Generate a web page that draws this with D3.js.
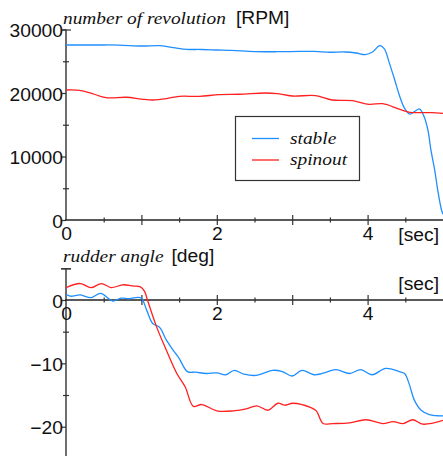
<!DOCTYPE html>
<html>
<head>
<meta charset="utf-8">
<script src="https://cdn.jsdelivr.net/npm/d3@7"></script>
<style>
body { margin: 0; background: #fff; }
</style>
</head>
<body>
<script>
// number of revolution [RPM]
var rpmStableT = [0, 0.4, 0.7, 1.0, 1.25, 1.45, 1.6, 1.8, 2.0, 2.2, 2.5, 2.8, 3.1, 3.3, 3.5, 3.7, 3.85, 3.97, 4.07, 4.16, 4.22, 4.29, 4.36, 4.42, 4.49, 4.56, 4.62, 4.69, 4.75, 4.8, 4.84, 4.89, 4.93, 4.98, 5.0]
var rpmStable = [27560, 27560, 27550, 27400, 27450, 27100, 26880, 26850, 26770, 26700, 26520, 26500, 26550, 26560, 26420, 26460, 26300, 26050, 26500, 27450, 27000, 24670, 22050, 19690, 17590, 16690, 17060, 17480, 16270, 14170, 11020, 7870, 4720, 1570, 900]
var rpmSpinT = [0, 0.18, 0.35, 0.53, 0.8, 1.0, 1.15, 1.35, 1.5, 1.77, 2.03, 2.3, 2.65, 2.8, 3.0, 3.31, 3.53, 3.8, 4.02, 4.2, 4.42, 4.56, 4.69, 4.85, 5.0]
var rpmSpin = [20470, 20420, 19900, 19260, 19330, 19050, 18900, 19150, 19470, 19470, 19740, 19800, 20000, 19900, 19530, 19580, 18900, 18790, 18220, 18320, 17450, 16950, 16900, 16900, 16800]

// rudder angle [deg]
var rudStableT = [0, 0.06, 0.19, 0.33, 0.46, 0.62, 0.73, 0.84, 0.95, 1.0, 1.07, 1.15, 1.24, 1.33, 1.42, 1.5, 1.61, 1.72, 1.86, 2.0, 2.12, 2.23, 2.36, 2.52, 2.74, 2.87, 3.0, 3.13, 3.29, 3.4, 3.58, 3.76, 3.91, 4.06, 4.24, 4.42, 4.49, 4.55, 4.62, 4.71, 4.82, 5.0]
var rudStable = [0.9, 0.6, 0.8, 0.37, 1.05, -0.16, 0.3, 0.2, 0.42, 0.3, -1.6, -3.7, -4.3, -6.3, -7.9, -9.2, -11.3, -11.4, -11.6, -11.5, -11.8, -11.1, -11.7, -11.9, -11.1, -11.3, -12.0, -11.1, -11.8, -11.6, -11.0, -11.6, -11.0, -11.8, -10.8, -11.3, -11.6, -13.2, -15.8, -17.4, -18.1, -18.3]
var rudSpinT = [0, 0.19, 0.33, 0.47, 0.6, 0.75, 0.9, 0.98, 1.04, 1.08, 1.2, 1.33, 1.47, 1.58, 1.69, 1.8, 2.0, 2.22, 2.39, 2.53, 2.68, 2.81, 2.9, 3.01, 3.25, 3.32, 3.41, 3.54, 3.76, 3.98, 4.2, 4.34, 4.47, 4.6, 4.73, 5.0]
var rudSpin = [1.95, 2.6, 1.95, 2.6, 1.95, 2.4, 2.2, 2.1, 1.4, 0, -4.2, -7.9, -11.6, -13.7, -16.8, -16.5, -17.5, -17.5, -17.2, -16.7, -17.4, -16.3, -16.6, -16.3, -17.0, -17.5, -19.5, -19.5, -19.4, -18.9, -19.5, -19.2, -19.5, -18.9, -19.6, -19.0]

var seriesNames = ["stable", "spinout"]
var seriesColors = ["#1f8fff", "#ff2020"]

var xTicksMajor = [1, 2, 3, 4]
var xTicksMinor = [0.5, 1.5, 2.5, 3.5, 4.5]
var xTickLabels = [0, 2, 4]
var rpmTicksMajor = [0, 10000, 20000, 30000]
var rpmTicksMinor = [5000, 15000, 25000]
var rudTicksMajor = [0, -10, -20]
var rudTicksMinor = [5, -5, -15]

var W = 443, H = 456
var sx = 1.07   // text is a bit wide in the picture
var sansFont = '"Liberation Sans", Arial, sans-serif'
var serifFont = '"Liberation Serif", "Times New Roman", serif'

var svg = d3.select("body").append("svg")
  .attr("width", W)
  .attr("height", H)

svg.append("defs").append("clipPath").attr("id", "clip")
  .append("rect").attr("x", 66).attr("y", 0).attr("width", W - 66).attr("height", H)

var x = d3.scaleLinear().domain([0, 5]).range([66, 443])
var yRpm = d3.scaleLinear().domain([0, 30000]).range([220, 29.5])
var yRud = d3.scaleLinear().domain([0, -20]).range([300, 426.7])

var fmt = function(d) { return d < 0 ? "\u2212" + (-d) : "" + d }

var line = function(xs, ys, yScale) {
  return d3.line()
    .x(function(d, i) { return x(xs[i]) })
    .y(function(d) { return yScale(d) })
    .curve(d3.curveCatmullRom.alpha(0.5))(ys)
}

var label = function(px, py, txt, font, size, anchor, scale, italic) {
  svg.append("text")
    .attr("transform", "translate(" + px + "," + py + ") scale(" + scale + ",1)")
    .attr("text-anchor", anchor || "start")
    .style("font-family", font)
    .style("font-size", size + "px")
    .style("font-style", italic ? "italic" : "normal")
    .attr("fill", "#111")
    .text(txt)
}

var drawPanel = function(yScale, yMajor, yMinor, yTop, yBottom, series, secY) {
  var y0 = yScale(0)

  // y axis (gray, thick)
  var ya = svg.append("g").attr("transform", "translate(66,0)")
  ya.append("line")
    .attr("x1", 0).attr("x2", 0)
    .attr("y1", yScale(yTop)).attr("y2", yBottom)
    .attr("stroke", "#6e6e6e").attr("stroke-width", 2)

  var gMaj = ya.append("g").call(d3.axisLeft(yScale).tickValues(yMajor).tickSize(4).tickFormat(fmt))
  gMaj.select(".domain").remove()
  gMaj.selectAll("line").attr("stroke", "#333").attr("stroke-width", 1.2)
  gMaj.selectAll("text")
    .attr("x", null).attr("dy", null)
    .attr("transform", "translate(-3,7) scale(" + sx + ",1)")
    .attr("fill", "#111")
    .style("font-family", sansFont).style("font-size", "18px")

  var gMin = ya.append("g").call(d3.axisLeft(yScale).tickValues(yMinor.concat([yTop])).tickSize(0).tickFormat(""))
  gMin.select(".domain").remove()
  gMin.selectAll(".tick line")
    .attr("x1", function(d) { return d === yTop ? -5 : -3 })
    .attr("x2", function(d) { return d === yTop ? 5 : 3 })
    .attr("stroke", "#333").attr("stroke-width", 1.2)

  // x axis
  var xa = svg.append("g").attr("transform", "translate(0," + y0 + ")")
  xa.append("line")
    .attr("x1", 65).attr("x2", W)
    .attr("y1", 0).attr("y2", 0)
    .attr("stroke", "#222").attr("stroke-width", 1.3)

  var gxMaj = xa.append("g").call(d3.axisBottom(x).tickValues(xTicksMajor).tickSize(0).tickFormat(""))
  gxMaj.select(".domain").remove()
  gxMaj.selectAll(".tick line").attr("y1", -5).attr("y2", 5).attr("stroke", "#333").attr("stroke-width", 1.2)

  var gxMin = xa.append("g").call(d3.axisBottom(x).tickValues(xTicksMinor).tickSize(0).tickFormat(""))
  gxMin.select(".domain").remove()
  gxMin.selectAll(".tick line").attr("y1", -2.5).attr("y2", 2.5).attr("stroke", "#333").attr("stroke-width", 1.2)

  var gxLab = xa.append("g").call(d3.axisBottom(x).tickValues(xTickLabels).tickSize(0).tickFormat(fmt))
  gxLab.select(".domain").remove()
  gxLab.selectAll("text")
    .attr("y", null).attr("dy", null)
    .attr("transform", "translate(0,20) scale(" + sx + ",1)")
    .attr("fill", "#111")
    .style("font-family", sansFont).style("font-size", "18px")

  label(439, secY, "[sec]", sansFont, 18, "end", sx)

  // curves
  var plot = svg.append("g").attr("clip-path", "url(#clip)")
  series.forEach(function(s, i) {
    plot.append("path")
      .attr("d", line(s[0], s[1], yScale))
      .attr("fill", "none")
      .attr("stroke", seriesColors[i])
      .attr("stroke-width", 1.3)
  })
}

drawPanel(yRpm, rpmTicksMajor, rpmTicksMinor, 30000, 220,
  [[rpmStableT, rpmStable], [rpmSpinT, rpmSpin]], 241)
drawPanel(yRud, rudTicksMajor, rudTicksMinor, 5, H,
  [[rudStableT, rudStable], [rudSpinT, rudSpin]], 290)

// titles
label(63, 24, "number of revolution", serifFont, 17, "start", 1.14, true)
label(236, 24, "[RPM]", sansFont, 18, "start", sx)
label(63, 262, "rudder angle", serifFont, 17, "start", 1.14, true)
label(171.5, 262, "[deg]", sansFont, 18, "start", sx)

// legend
var lg = svg.append("g")
lg.append("rect")
  .attr("x", 235.5).attr("y", 116.5).attr("width", 124).attr("height", 64)
  .attr("fill", "#fff").attr("stroke", "#333").attr("stroke-width", 1.2)
seriesNames.forEach(function(name, i) {
  var ly = 138.5 + i * 21.5
  lg.append("line")
    .attr("x1", 252).attr("x2", 279).attr("y1", ly).attr("y2", ly)
    .attr("stroke", seriesColors[i]).attr("stroke-width", 1.3)
  lg.append("text")
    .attr("transform", "translate(290," + (ly + 5) + ") scale(1.14,1)")
    .style("font-family", serifFont).style("font-style", "italic").style("font-size", "17px")
    .attr("fill", "#111")
    .text(name)
})
</script>
</body>
</html>
